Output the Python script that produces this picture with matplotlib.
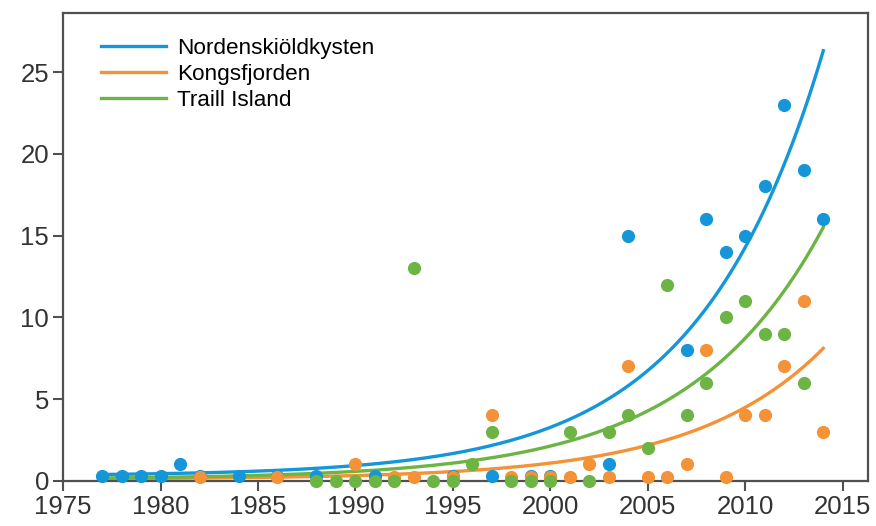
import matplotlib.pyplot as plt
import numpy as np

plt.rcParams["font.family"] = ["Liberation Sans", "DejaVu Sans"]

names = ["Nordenskiöldkysten", "Kongsfjorden", "Traill Island"]
colors = ["#1496d8", "#f39237", "#6cb444"]

# Nordenskiöldkysten
blue_years = [1977, 1978, 1979, 1980, 1981, 1982, 1984, 1986, 1988, 1991, 1995,
              1997, 1999, 2000, 2003, 2004, 2007, 2008, 2009, 2010, 2011, 2012,
              2013, 2014]
blue_vals = [0.3, 0.3, 0.3, 0.3, 1, 0.3, 0.3, 0.3, 0.3, 0.3, 0.3,
             0.3, 0.3, 0.3, 1, 15, 8, 16, 14, 15, 18, 23,
             19, 16]

# Kongsfjorden
orange_years = [1982, 1986, 1990, 1992, 1993, 1995, 1997, 1998, 1999, 2000, 2001,
                2002, 2003, 2004, 2005, 2006, 2007, 2008, 2009, 2010, 2011, 2012,
                2013, 2014]
orange_vals = [0.2, 0.2, 1, 0.2, 0.2, 0.2, 4, 0.2, 0.2, 0.2, 0.2,
               1, 0.2, 7, 0.2, 0.2, 1, 8, 0.2, 4, 4, 7,
               11, 3]

# Traill Island
green_years = [1988, 1989, 1990, 1991, 1992, 1993, 1994, 1995, 1996, 1997, 1998,
               1999, 2000, 2001, 2002, 2003, 2004, 2005, 2006, 2007, 2008, 2009,
               2010, 2011, 2012, 2013]
green_vals = [0, 0, 0, 0, 0, 13, 0, 0, 1, 3, 0,
              0, 0, 3, 0, 3, 4, 2, 12, 4, 6, 10,
              11, 9, 9, 6]

# exponential trend lines: base + amp * exp(rate * (year - 2014))
fit_amp = [26.0, 8.0, 15.4]
fit_rate = [0.155, 0.15, 0.145]
fit_base = [0.3, 0.1, 0.1]
fit_start = 1977
fit_end = 2014

fig = plt.figure(figsize=(8.76, 5.26), dpi=100)
ax = fig.add_axes([0.072, 0.086, 0.919, 0.889])

series = [(blue_years, blue_vals), (orange_years, orange_vals), (green_years, green_vals)]
t = np.linspace(fit_start, fit_end, 300)
for i, (yrs, vals) in enumerate(series):
    fy = fit_base[i] + fit_amp[i] * np.exp(fit_rate[i] * (t - fit_end))
    ax.plot(t, fy, color=colors[i], lw=2.4, label=names[i], zorder=2)
for i, (yrs, vals) in enumerate(series):
    ax.plot(yrs, vals, "o", color=colors[i], ms=9.5, mec="none", clip_on=False, zorder=3 + i)

ax.set_xlim(1975, 2016.3)
ax.set_ylim(0, 28.6)
ax.set_xticks(range(1975, 2016, 5))
ax.set_yticks(range(0, 26, 5))

for s in ax.spines.values():
    s.set_color("#505050")
    s.set_linewidth(1.6)
ax.tick_params(direction="out", length=7, width=1.5, color="#505050",
               labelsize=18.5, labelcolor="#333333", pad=3)

ax.legend(loc="upper left", bbox_to_anchor=(0.027, 0.98), frameon=False,
          fontsize=16.2, handlelength=2.9, handletextpad=0.5,
          labelspacing=0.22, borderaxespad=0.3)

fig.savefig("out.png", dpi=100)
